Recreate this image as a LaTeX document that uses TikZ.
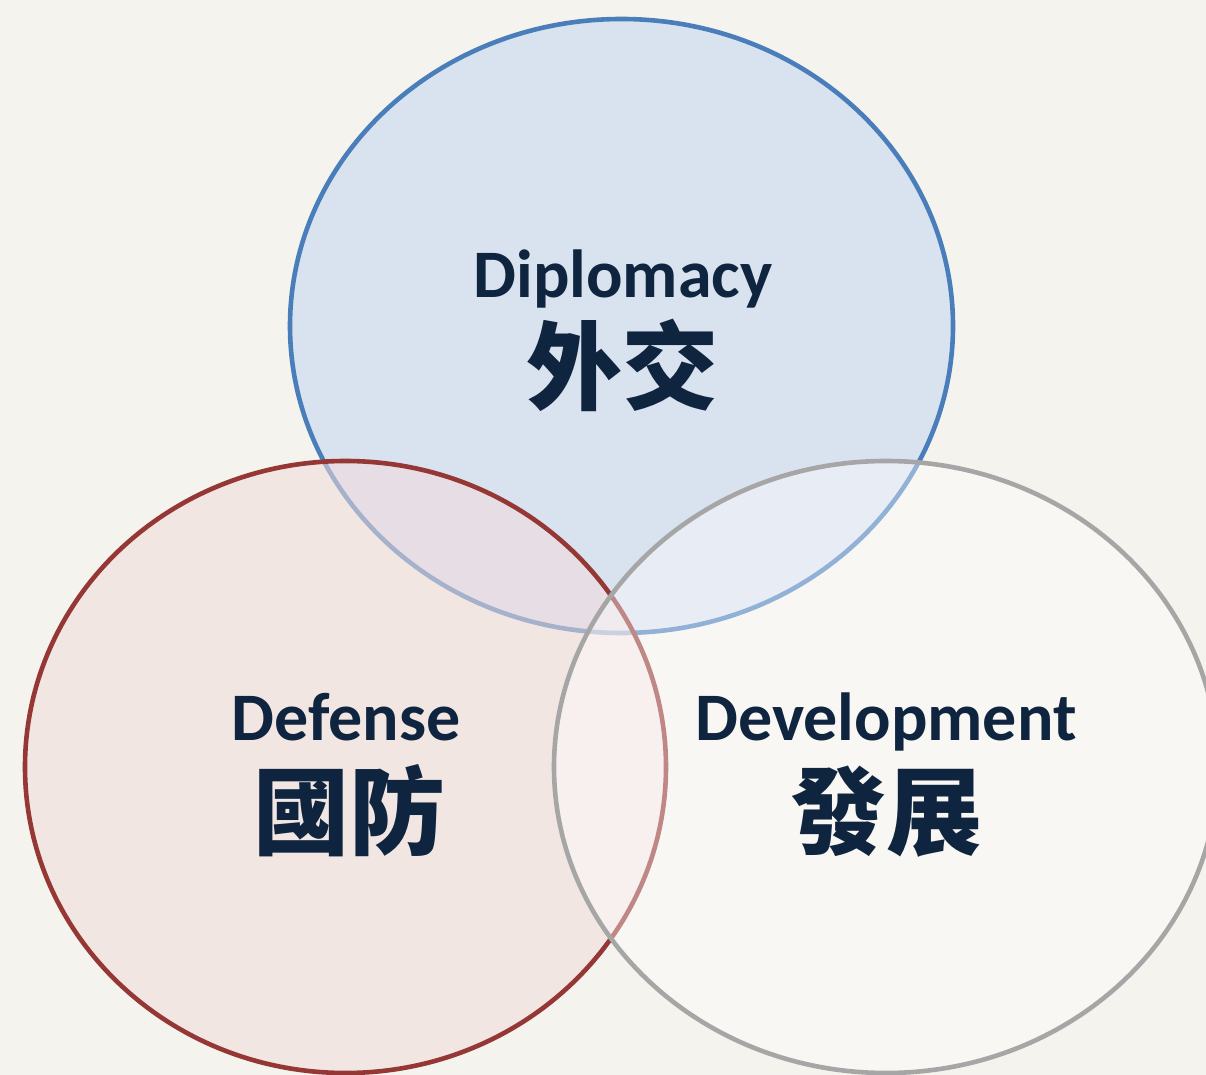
\documentclass[tikz,border=0pt]{standalone}
\usepackage{fontspec}
\setmainfont{Carlito}
\newfontfamily\cjk{Noto Sans CJK TC}
\usetikzlibrary{shapes.geometric}

\definecolor{paper}{HTML}{F4F3EE}
\definecolor{navy}{HTML}{0F243E}
\definecolor{dipline}{HTML}{4A7EBB}
\definecolor{dipfill}{HTML}{D9E2EF}
\definecolor{defline}{HTML}{953735}
\definecolor{deffill}{HTML}{F2DCDB}
\definecolor{devline}{HTML}{A6A6A6}

\begin{document}
\begin{tikzpicture}[x=0.5pt, y=-0.5pt,
    ring/.style={ellipse, draw, line width=2.3pt, inner sep=0pt, outer sep=0pt},
    en/.style={text=navy, anchor=base, font=\bfseries\fontsize{34}{40}\selectfont},
    zh/.style={text=navy, anchor=base, font=\cjk\bfseries\fontsize{48}{56}\selectfont}]
    \useasboundingbox (0,0) rectangle (1206,1075);
    \clip (0,0) rectangle (1206,1075);
    \fill[paper] (0,0) rectangle (1206,1075);

    % the three circles
    \node[ring, draw=dipline, fill=dipfill, minimum width=331.5pt, minimum height=307pt]
      (dipl) at (621.5,326) {};
    \node[ring, draw=defline, fill=deffill, fill opacity=0.55, minimum width=320.5pt, minimum height=306pt]
      (defn) at (345.5,767) {};
    \node[ring, draw=devline, fill=white, fill opacity=0.4, minimum width=332pt, minimum height=306pt]
      (devt) at (886,767) {};

    % labels
    \node[en] (diplEn) at (623,298) {Diplomacy};
    \node[zh] (diplZh) at (622,402) {外交};
    \node[en] (defnEn) at (346,740) {Defense};
    \node[zh] (defnZh) at (349,847) {國防};
    \node[en] (devtEn) at (886,740) {Development};
    \node[zh] (devtZh) at (886,847) {發展};
\end{tikzpicture}
\end{document}
